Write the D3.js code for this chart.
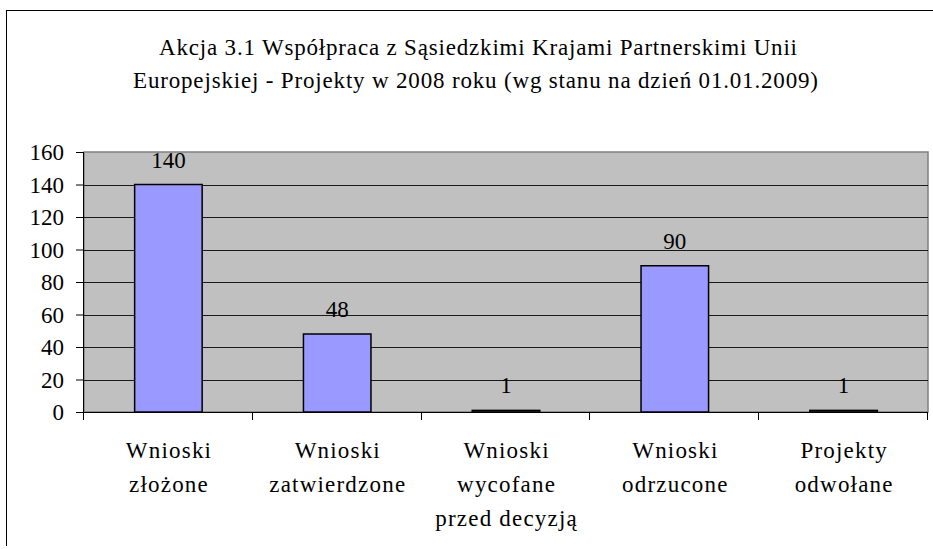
<!DOCTYPE html>
<html>
<head>
<meta charset="utf-8">
<script src="https://cdnjs.cloudflare.com/ajax/libs/d3/7.8.5/d3.min.js"></script>
<style>
  html, body { margin: 0; padding: 0; background: #fff; }
  svg { display: block; font-family: "Liberation Serif", "Times New Roman", serif; }
</style>
</head>
<body>
<svg id="chart" width="933" height="549"></svg>
<script>
// data
const titleLines = [
  "Akcja 3.1 Współpraca z Sąsiedzkimi Krajami Partnerskimi Unii",
  "Europejskiej  - Projekty w 2008 roku (wg stanu na dzień 01.01.2009)",
];
const categories = [
  ["Wnioski", "złożone"],
  ["Wnioski", "zatwierdzone"],
  ["Wnioski", "wycofane", "przed decyzją"],
  ["Wnioski", "odrzucone"],
  ["Projekty", "odwołane"],
];
const values = [140, 48, 1, 90, 1];
const yTicks = [0, 20, 40, 60, 80, 100, 120, 140, 160];

const plot = { left: 84, right: 928, top: 152, bottom: 412 };
const svg = d3.select("#chart");

// outer frame (only left and top edge visible)
svg.append("line")
  .attr("x1", 6.5).attr("x2", 6.5).attr("y1", 10).attr("y2", 546)
  .attr("stroke", "#000");
svg.append("line")
  .attr("x1", 6).attr("x2", 933).attr("y1", 10.5).attr("y2", 10.5)
  .attr("stroke", "#000");

// title
const titleWidths = [638, 685];
const titleCenters = [478, 475.5];
svg.selectAll(".title")
  .data(titleLines)
  .enter()
  .append("text")
  .attr("class", "title")
  .attr("x", (d, i) => titleCenters[i] - titleWidths[i] / 2)
  .attr("y", (d, i) => 55 + i * 33)
  .attr("font-size", "23px")
  .attr("textLength", (d, i) => titleWidths[i])
  .attr("lengthAdjust", "spacing")
  .attr("fill", "#000")
  .text((d) => d);

// scales
const x = d3.scaleBand()
  .domain(d3.range(values.length))
  .range([plot.left, plot.right])
  .paddingInner(0.6)
  .paddingOuter(0.3);

const xEdge = d3.scaleLinear()
  .domain([0, values.length])
  .range([plot.left, plot.right]);

const y = d3.scaleLinear()
  .domain([0, 160])
  .range([plot.bottom, plot.top]);

// plot background
svg.append("rect")
  .attr("x", plot.left)
  .attr("y", plot.top)
  .attr("width", plot.right - plot.left)
  .attr("height", plot.bottom - plot.top)
  .attr("fill", "#C0C0C0")
  .attr("stroke", "#808080")
  .attr("stroke-width", 1.5);

// grid lines
svg.selectAll(".grid")
  .data(yTicks.filter((d) => d > 0 && d < 160))
  .enter()
  .append("line")
  .attr("class", "grid")
  .attr("x1", plot.left)
  .attr("x2", plot.right)
  .attr("y1", (d) => Math.round(y(d)) + 0.5)
  .attr("y2", (d) => Math.round(y(d)) + 0.5)
  .attr("stroke", "#1a1a1a")
  .attr("stroke-width", 1);

// bars
svg.selectAll("rect.bar")
  .data(values)
  .enter()
  .append("rect")
  .attr("class", "bar")
  .attr("x", (d, i) => x(i))
  .attr("y", (d) => y(d))
  .attr("width", x.bandwidth())
  .attr("height", (d) => y(0) - y(d))
  .attr("fill", "#9999FF")
  .attr("stroke", "#000")
  .attr("stroke-width", 1.5);

// value labels
svg.selectAll(".value")
  .data(values)
  .enter()
  .append("text")
  .attr("class", "value")
  .attr("x", (d, i) => x(i) + x.bandwidth() / 2)
  .attr("y", (d) => y(d) - 17)
  .attr("text-anchor", "middle")
  .attr("font-size", "23px")
  .attr("fill", "#000")
  .text((d) => d);

// y axis
const yAxis = svg.append("g")
  .attr("transform", `translate(${plot.left},0)`)
  .call(d3.axisLeft(y).tickValues(yTicks).tickSize(8).tickPadding(12));
yAxis.select(".domain").attr("stroke", "#000").attr("d", `M-0.5,${plot.top}V${plot.bottom + 8}`);
yAxis.selectAll(".tick line").attr("stroke", "#000");
yAxis.selectAll(".tick text")
  .attr("font-family", '"Liberation Serif", "Times New Roman", serif')
  .attr("font-size", "23px")
  .attr("fill", "#000")
  .attr("dy", "0.34em");

// x axis line and category boundary ticks
svg.append("line")
  .attr("x1", plot.left)
  .attr("x2", plot.right)
  .attr("y1", plot.bottom + 0.5)
  .attr("y2", plot.bottom + 0.5)
  .attr("stroke", "#000")
  .attr("stroke-width", 1.2);

svg.selectAll(".xtick")
  .data(d3.range(1, values.length + 1))
  .enter()
  .append("line")
  .attr("class", "xtick")
  .attr("x1", (d) => Math.round(xEdge(d)) - 0.5)
  .attr("x2", (d) => Math.round(xEdge(d)) - 0.5)
  .attr("y1", plot.bottom)
  .attr("y2", plot.bottom + 8)
  .attr("stroke", "#000");

// category labels
const catLabel = svg.selectAll(".cat")
  .data(categories)
  .enter()
  .append("text")
  .attr("class", "cat")
  .attr("text-anchor", "middle")
  .attr("font-size", "23px")
  .attr("letter-spacing", "1.2px")
  .attr("fill", "#000");

catLabel.selectAll("tspan")
  .data((d, i) => d.map((line) => ({ line, i })))
  .enter()
  .append("tspan")
  .attr("x", (d) => x(d.i) + x.bandwidth() / 2 + 0.6)
  .attr("y", (d, j) => 458 + j * 34)
  .text((d) => d.line);
</script>
</body>
</html>
